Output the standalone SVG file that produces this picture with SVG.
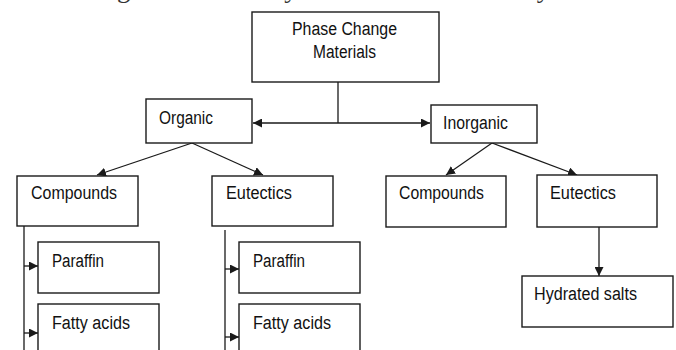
<svg xmlns="http://www.w3.org/2000/svg" width="676" height="350" viewBox="0 0 676 350">
  <style>
    .box { fill: #ffffff; stroke: #1a1a1a; stroke-width: 1.4; }
    .lbl { font-family: "Liberation Sans", Arial, sans-serif; font-size: 18px; fill: #111111; }
    .con { fill: none; stroke: #1a1a1a; stroke-width: 1.3; }
    .top { font-family: "Liberation Serif", "Times New Roman", serif; font-size: 26px; fill: #333333; }
  </style>
  <defs>
    <marker id="ah" viewBox="0 0 10 10" refX="10" refY="5" markerWidth="9" markerHeight="9" markerUnits="userSpaceOnUse" orient="auto">
      <path d="M0,0 L10,5 L0,10 z" fill="#1a1a1a"/>
    </marker>
  </defs>
  <rect width="676" height="350" fill="#ffffff"/>

  <text class="top" x="14" y="-2" textLength="611" lengthAdjust="spacingAndGlyphs">subcooling and are usually non-corrosive and very stable.</text>

  <g id="connectors">
    <path class="con" d="M338,82 V123"/>
    <path class="con" d="M338,123 H253" marker-end="url(#ah)"/>
    <path class="con" d="M338,123 H430" marker-end="url(#ah)"/>
    <path class="con" d="M192,143 L97,175" marker-end="url(#ah)"/>
    <path class="con" d="M192,143 L263,175" marker-end="url(#ah)"/>
    <path class="con" d="M492,143 L446,175" marker-end="url(#ah)"/>
    <path class="con" d="M492,143 L577,175" marker-end="url(#ah)"/>
    <path class="con" d="M24,226 V350"/>
    <path class="con" d="M24,266 H38" marker-end="url(#ah)"/>
    <path class="con" d="M24,333 H38" marker-end="url(#ah)"/>
    <path class="con" d="M225,230 V350"/>
    <path class="con" d="M225,269 H239" marker-end="url(#ah)"/>
    <path class="con" d="M225,337 H239" marker-end="url(#ah)"/>
    <path class="con" d="M599,227 V276" marker-end="url(#ah)"/>
  </g>

  <g id="pcm">
    <rect class="box" x="252" y="12" width="187" height="70"/>
    <text class="lbl" x="292" y="35" textLength="105" lengthAdjust="spacingAndGlyphs">Phase Change</text>
    <text class="lbl" x="313" y="58" textLength="63" lengthAdjust="spacingAndGlyphs">Materials</text>
  </g>
  <g id="organic">
    <rect class="box" x="146" y="99" width="106" height="44"/>
    <text class="lbl" x="159" y="124" textLength="54" lengthAdjust="spacingAndGlyphs">Organic</text>
  </g>
  <g id="inorganic">
    <rect class="box" x="431" y="105" width="106" height="38"/>
    <text class="lbl" x="443" y="129" textLength="65" lengthAdjust="spacingAndGlyphs">Inorganic</text>
  </g>
  <g id="org-compounds">
    <rect class="box" x="17" y="176" width="121" height="50"/>
    <text class="lbl" x="31" y="199" textLength="86" lengthAdjust="spacingAndGlyphs">Compounds</text>
  </g>
  <g id="org-eutectics">
    <rect class="box" x="212" y="176" width="121" height="50"/>
    <text class="lbl" x="226" y="199" textLength="66" lengthAdjust="spacingAndGlyphs">Eutectics</text>
  </g>
  <g id="inorg-compounds">
    <rect class="box" x="386" y="176" width="120" height="51"/>
    <text class="lbl" x="399" y="199" textLength="85" lengthAdjust="spacingAndGlyphs">Compounds</text>
  </g>
  <g id="inorg-eutectics">
    <rect class="box" x="537" y="175" width="120" height="52"/>
    <text class="lbl" x="550" y="199" textLength="66" lengthAdjust="spacingAndGlyphs">Eutectics</text>
  </g>
  <g id="org-comp-paraffin">
    <rect class="box" x="38" y="242" width="121" height="51"/>
    <text class="lbl" x="52" y="267" textLength="52" lengthAdjust="spacingAndGlyphs">Paraffin</text>
  </g>
  <g id="org-comp-fatty">
    <rect class="box" x="38" y="304" width="121" height="60"/>
    <text class="lbl" x="52" y="329" textLength="78" lengthAdjust="spacingAndGlyphs">Fatty acids</text>
  </g>
  <g id="org-eut-paraffin">
    <rect class="box" x="239" y="242" width="121" height="51"/>
    <text class="lbl" x="253" y="267" textLength="52" lengthAdjust="spacingAndGlyphs">Paraffin</text>
  </g>
  <g id="org-eut-fatty">
    <rect class="box" x="239" y="304" width="121" height="60"/>
    <text class="lbl" x="253" y="329" textLength="78" lengthAdjust="spacingAndGlyphs">Fatty acids</text>
  </g>
  <g id="hydrated-salts">
    <rect class="box" x="522" y="276" width="151" height="51"/>
    <text class="lbl" x="534" y="300" textLength="103" lengthAdjust="spacingAndGlyphs">Hydrated salts</text>
  </g>
</svg>
